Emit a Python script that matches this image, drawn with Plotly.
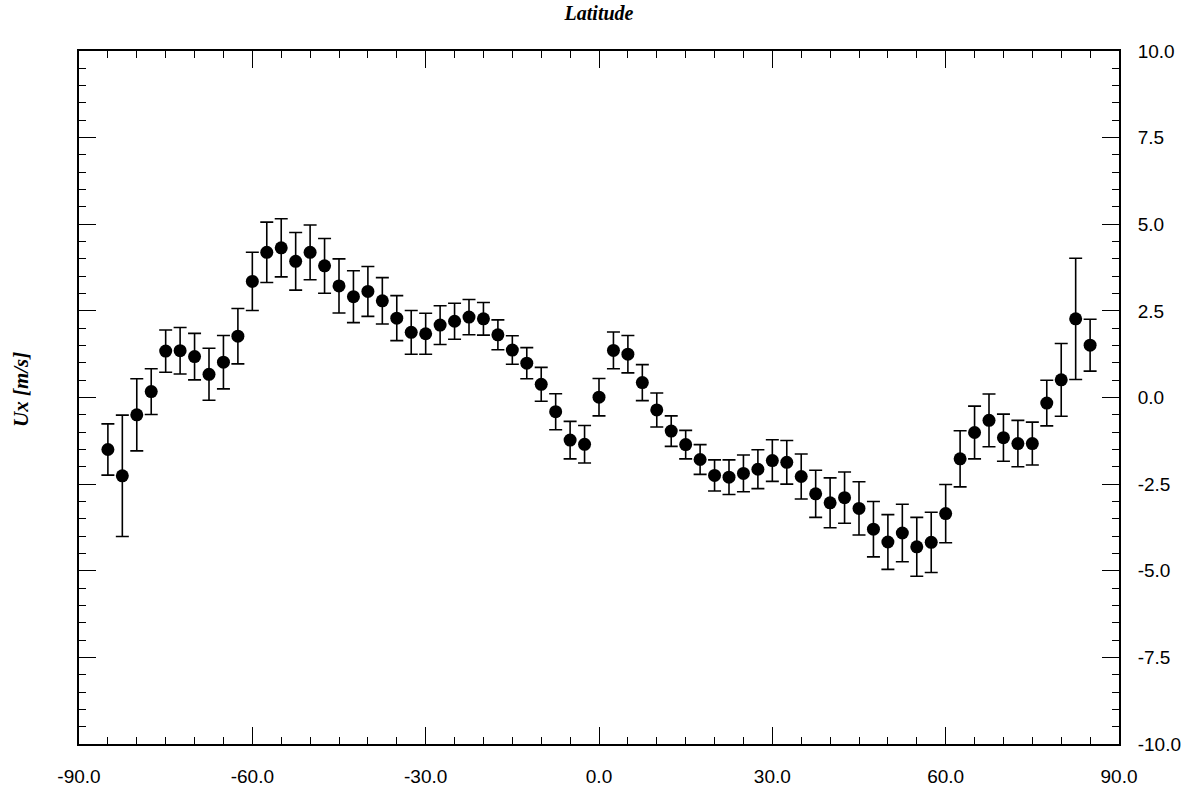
import plotly.graph_objects as go

lat = [-85 + 2.5 * i for i in range(69)]
ux = [-1.50, -2.26, -0.50, 0.17, 1.34, 1.35, 1.18, 0.67, 1.02, 1.77,
      3.35, 4.19, 4.32, 3.93, 4.19, 3.80, 3.22, 2.91, 3.06, 2.79,
      2.29, 1.88, 1.84, 2.09, 2.20, 2.32, 2.27, 1.81, 1.37, 0.99,
      0.38, -0.41, -1.23, -1.35, 0.01, 1.36, 1.25, 0.43, -0.36, -0.97,
      -1.36, -1.79, -2.25, -2.30, -2.19, -2.07, -1.82, -1.87, -2.28, -2.78,
      -3.04, -2.89, -3.20, -3.80, -4.17, -3.91, -4.31, -4.18, -3.35, -1.77,
      -1.01, -0.66, -1.16, -1.33, -1.33, -0.16, 0.51, 2.27, 1.51]
err = [0.74, 1.75, 1.04, 0.66, 0.61, 0.67, 0.67, 0.75, 0.77, 0.80,
       0.84, 0.87, 0.84, 0.83, 0.79, 0.79, 0.78, 0.75, 0.72, 0.67,
       0.65, 0.63, 0.59, 0.56, 0.52, 0.51, 0.47, 0.43, 0.41, 0.45,
       0.49, 0.52, 0.54, 0.54, 0.54, 0.53, 0.54, 0.52, 0.49, 0.44,
       0.41, 0.43, 0.45, 0.50, 0.53, 0.56, 0.60, 0.63, 0.65, 0.68,
       0.72, 0.74, 0.77, 0.80, 0.79, 0.83, 0.85, 0.87, 0.84, 0.81,
       0.76, 0.76, 0.68, 0.67, 0.62, 0.66, 1.05, 1.75, 0.75]

x_ticks = [-90, -60, -30, 0, 30, 60, 90]
y_ticks = [-10, -7.5, -5, -2.5, 0, 2.5, 5, 7.5, 10]

fig = go.Figure()
fig.add_trace(go.Scatter(
    x=lat, y=ux, mode="markers",
    marker=dict(color="black", size=13),
    error_y=dict(type="data", array=err, visible=True, color="black",
                 thickness=1.6, width=6.5),
    showlegend=False,
))

axis_common = dict(
    showgrid=False, zeroline=False, showline=True, linecolor="black",
    linewidth=1.8, ticks="inside", tickcolor="black", tickwidth=1.3,
    ticklen=17, mirror="allticks", automargin=False,
    tickfont=dict(family="Liberation Sans, Arial, sans-serif", size=19, color="black"),
)

fig.update_xaxes(range=[-90, 90], tickvals=x_ticks,
                 ticktext=[f"{v:.1f}" for v in x_ticks], ticklabelstandoff=14,
                 minor=dict(dtick=5, ticks="inside", ticklen=7, tickcolor="black", tickwidth=1.2),
                 **axis_common)
fig.update_yaxes(range=[-10, 10], side="right", tickvals=y_ticks,
                 ticktext=[f"{v:.1f}" for v in y_ticks], ticklabelstandoff=13,
                 minor=dict(dtick=0.5, ticks="inside", ticklen=7, tickcolor="black", tickwidth=1.2),
                 **axis_common)

fig.update_layout(
    width=1191, height=792,
    margin=dict(l=79, r=72, t=51, b=48, autoexpand=False),
    plot_bgcolor="white", paper_bgcolor="white",
    title=dict(text="<b><i>Latitude</i></b>", x=0.5, xref="paper",
               y=1 - 13 / 792, yref="container", yanchor="middle", xanchor="center",
               font=dict(family="Liberation Serif, Times New Roman, serif", size=20, color="black")),
    annotations=[dict(text="<b><i>Ux [m/s]</i></b>", xref="paper", yref="paper",
                      x=(21 - 79) / 1040, y=(744 - 390) / 693, xanchor="center", yanchor="middle",
                      textangle=-90, showarrow=False,
                      font=dict(family="Liberation Serif, Times New Roman, serif", size=21, color="black"))],
)

fig.write_html("out.html")
